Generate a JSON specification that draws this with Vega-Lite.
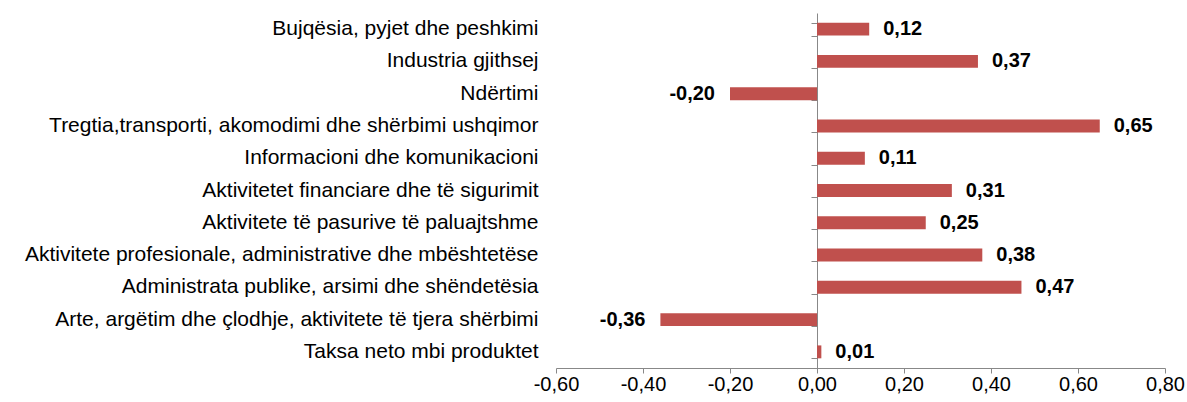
{
  "$schema": "https://vega.github.io/schema/vega-lite/v6.json",
  "autosize": "none",
  "width": 609,
  "height": 355,
  "padding": {"left": 556, "top": 13, "right": 22, "bottom": 34},
  "background": "white",
  "config": {
    "locale": {"number": {"decimal": ",", "thousands": ".", "grouping": [3], "currency": ["", ""], "minus": "-"}},
    "view": {"stroke": null},
    "font": "Liberation Sans"
  },
  "data": {"values": [
    {"sektori": "Bujqësia, pyjet dhe peshkimi", "vlera": 0.12},
    {"sektori": "Industria gjithsej", "vlera": 0.37},
    {"sektori": "Ndërtimi", "vlera": -0.20},
    {"sektori": "Tregtia,transporti, akomodimi dhe shërbimi ushqimor", "vlera": 0.65},
    {"sektori": "Informacioni dhe komunikacioni", "vlera": 0.11},
    {"sektori": "Aktivitetet financiare dhe të sigurimit", "vlera": 0.31},
    {"sektori": "Aktivitete të pasurive të paluajtshme", "vlera": 0.25},
    {"sektori": "Aktivitete  profesionale, administrative dhe mbështetëse", "vlera": 0.38},
    {"sektori": "Administrata publike, arsimi dhe shëndetësia ", "vlera": 0.47},
    {"sektori": "Arte, argëtim dhe çlodhje, aktivitete të tjera shërbimi", "vlera": -0.36},
    {"sektori": "Taksa neto mbi produktet", "vlera": 0.01}
  ]},
  "resolve": {"axis": {"y": "independent"}},
  "layer": [
    {
      "mark": {"type": "bar", "color": "#C0504D"},
      "encoding": {
        "y": {"field": "sektori", "type": "nominal", "sort": null,
          "scale": {"paddingInner": 0.6, "paddingOuter": 0.3},
          "axis": {"title": null, "domain": false, "ticks": false, "labelPadding": 18,
            "labelFontSize": 21, "labelColor": "#000000", "labelFont": "Liberation Sans", "labelLimit": 0}},
        "x": {"field": "vlera", "type": "quantitative",
          "scale": {"domain": [-0.6, 0.8], "nice": false, "zero": false},
          "axis": {"title": null, "format": ".2f", "values": [-0.6, -0.4, -0.2, 0, 0.2, 0.4, 0.6, 0.8],
            "grid": false, "domainColor": "#888888", "tickColor": "#888888", "tickSize": 5,
            "labelFlush": false, "labelOverlap": false,
            "labelFontSize": 20, "labelColor": "#000000", "labelPadding": 1, "labelFont": "Liberation Sans"}}
      }
    },
    {
      "mark": {"type": "rule", "color": "#888888", "opacity": 0},
      "encoding": {
        "y": {"field": "sektori", "type": "nominal", "sort": null,
          "axis": {"orient": "right", "offset": -348, "title": null, "labels": false,
            "domainColor": "#888888", "tickColor": "#888888", "tickSize": -6, "tickBand": "extent"}}
      }
    },
    {
      "transform": [{"filter": "datum.vlera >= 0"}],
      "mark": {"type": "text", "align": "left", "dx": 14, "fontWeight": "bold", "fontSize": 20, "color": "#000000", "font": "Liberation Sans"},
      "encoding": {
        "y": {"field": "sektori", "type": "nominal", "sort": null, "axis": null},
        "x": {"field": "vlera", "type": "quantitative"},
        "text": {"field": "vlera", "type": "quantitative", "format": ".2f"}
      }
    },
    {
      "transform": [{"filter": "datum.vlera < 0"}],
      "mark": {"type": "text", "align": "right", "dx": -15, "fontWeight": "bold", "fontSize": 20, "color": "#000000", "font": "Liberation Sans"},
      "encoding": {
        "y": {"field": "sektori", "type": "nominal", "sort": null, "axis": null},
        "x": {"field": "vlera", "type": "quantitative"},
        "text": {"field": "vlera", "type": "quantitative", "format": ".2f"}
      }
    }
  ]
}
